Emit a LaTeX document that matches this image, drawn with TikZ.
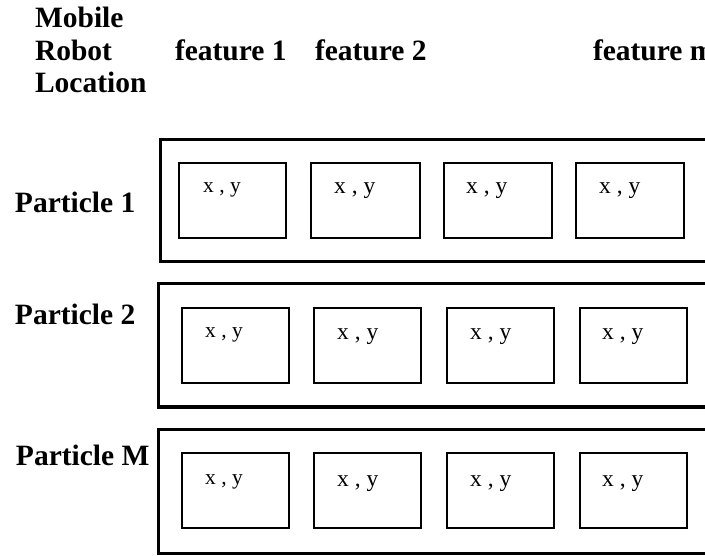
\documentclass[tikz,border=0pt]{standalone}
\usepackage{fontspec}
\setmainfont{Liberation Serif}
\begin{document}
\begin{tikzpicture}[x=1pt,y=-1pt,
  lab/.style={font=\fontsize{29.5}{34}\selectfont\bfseries, inner sep=0pt, outer sep=0pt, anchor=base west},
  xyA/.style={font=\fontsize{21.5}{26}\selectfont, inner sep=0pt, anchor=base west},
  xyB/.style={font=\fontsize{23.5}{28}\selectfont, inner sep=0pt, anchor=base west},
  outerbox/.style={draw=black, line width=3pt, inner sep=0pt, outer sep=0pt, anchor=north west, minimum width=580pt, minimum height=#1},
  cell/.style={draw=black, line width=2.7pt, inner sep=0pt, outer sep=0pt, anchor=north west, minimum width=#1, minimum height=75pt}
]
\useasboundingbox (0,0) rectangle (705,556);
\clip (0,0) rectangle (705,556);
\fill[white] (0,0) rectangle (705,556);

% header
\node[lab] (mob) at (35,28) {Mobile};
\node[lab] (rob) at (35,61) {Robot};
\node[lab] (loc) at (35,93) {Location};
\node[lab] (f1) at (175,61) {feature 1};
\node[lab] (f2) at (315,61) {feature 2};
\node[lab] (fm) at (593,61) {feature m};

% row labels
\node[lab] (p1) at (15,213) {Particle 1};
\node[lab] (p2) at (15,325) {Particle 2};
\node[lab] (pM) at (16,465) {Particle M};

% outer boxes
\node[outerbox=122pt] (o1) at (160,140) {};
\node[outerbox=123pt] (o2) at (158,284) {};
\node[outerbox=124pt] (o3) at (158,429) {};

% particle 1 cells
\node[cell=107pt] (a1) at (179,163) {};
\node[cell=109pt] (a2) at (311,163) {};
\node[cell=108pt] (a3) at (444,163) {};
\node[cell=108pt] (a4) at (576,163) {};
\node[xyA] (ta1) at (203,193) {x , y};
\node[xyB] (ta2) at (334,194) {x , y};
\node[xyB] (ta3) at (466,194) {x , y};
\node[xyB] (ta4) at (599,194) {x , y};

% particle 2 cells
\node[cell=107pt] (b1) at (182,308) {};
\node[cell=107pt] (b2) at (314,308) {};
\node[cell=107pt] (b3) at (447,308) {};
\node[cell=107pt] (b4) at (580,308) {};
\node[xyA] (tb1) at (205,338) {x , y};
\node[xyB] (tb2) at (337,340) {x , y};
\node[xyB] (tb3) at (470,340) {x , y};
\node[xyB] (tb4) at (602,340) {x , y};

% particle M cells
\node[cell=107pt] (c1) at (182,453) {};
\node[cell=107pt] (c2) at (314,453) {};
\node[cell=107pt] (c3) at (447,453) {};
\node[cell=107pt] (c4) at (580,453) {};
\node[xyA] (tc1) at (205,484) {x , y};
\node[xyB] (tc2) at (337,486) {x , y};
\node[xyB] (tc3) at (470,486) {x , y};
\node[xyB] (tc4) at (602,486) {x , y};
\end{tikzpicture}
\end{document}
